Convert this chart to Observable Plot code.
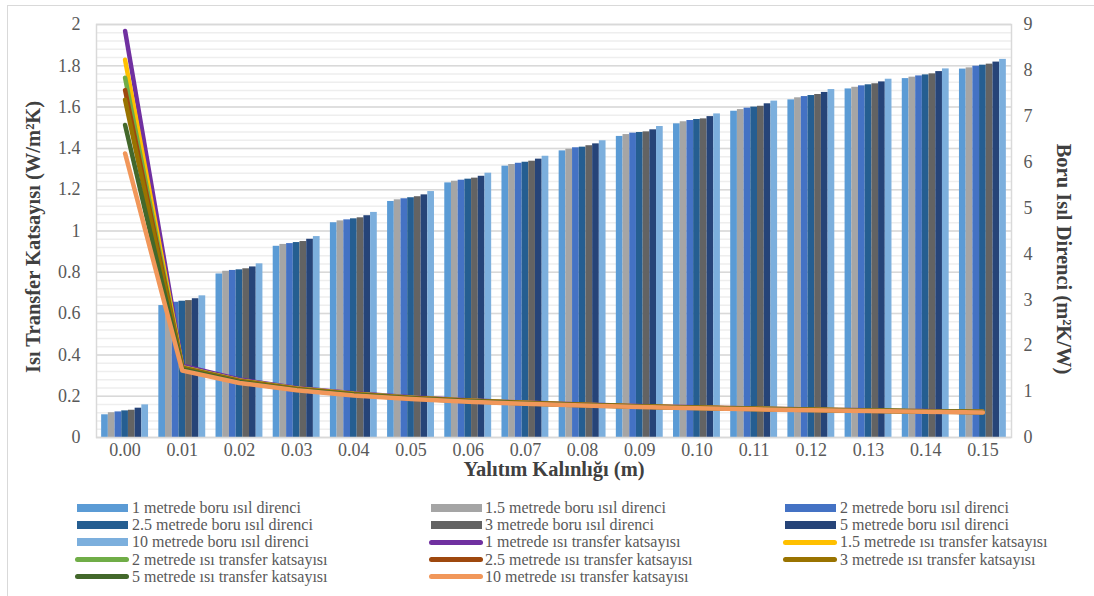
<!DOCTYPE html>
<html>
<head>
<meta charset="utf-8">
<script src="https://cdn.jsdelivr.net/npm/d3@7"></script>
<script src="https://cdn.jsdelivr.net/npm/@observablehq/plot@0.6"></script>
<style>
  body { margin: 0; background: #fff; }
  #wrap { position: relative; width: 1094px; height: 596px; overflow: hidden;
          font-family: "Liberation Serif", "Times New Roman", serif; background: #fff; }
  #border { position: absolute; left: 7px; top: 5px; width: 1300px; height: 800px;
            border-left: 1px solid #d9d9d9; border-top: 1px solid #d9d9d9; }
  #chart { position: absolute; left: 0; top: 0; }
  .leg { position: absolute; font-size: 16px; color: #595959; white-space: nowrap; line-height: 17px; }
  .sw { position: absolute; }
</style>
</head>
<body>
<div id="wrap">
  <div id="border"></div>
  <div id="chart"></div>
  <div id="legend"></div>
</div>
<script>
// Insulation thickness (m)
const thickness = [0.00, 0.01, 0.02, 0.03, 0.04, 0.05, 0.06, 0.07, 0.08, 0.09, 0.10, 0.11, 0.12, 0.13, 0.14, 0.15];

// Pipe lengths (m)
const lengths = ["1", "1.5", "2", "2.5", "3", "5", "10"];

// Pipe thermal resistance (m²K/W) per pipe length
const direnc1 =  [0.110, 0.639, 0.792, 0.926, 1.040, 1.143, 1.233, 1.314, 1.388, 1.458, 1.519, 1.580, 1.635, 1.688, 1.738, 1.784];
const direnc15 = [0.120, 0.652, 0.805, 0.935, 1.049, 1.151, 1.241, 1.322, 1.396, 1.467, 1.529, 1.588, 1.645, 1.696, 1.745, 1.790];
const direnc2 =  [0.124, 0.655, 0.809, 0.939, 1.054, 1.156, 1.246, 1.328, 1.403, 1.474, 1.535, 1.595, 1.651, 1.703, 1.751, 1.798];
const direnc25 = [0.129, 0.660, 0.812, 0.944, 1.059, 1.161, 1.251, 1.333, 1.406, 1.477, 1.540, 1.600, 1.656, 1.708, 1.756, 1.803];
const direnc3 =  [0.132, 0.663, 0.817, 0.949, 1.064, 1.166, 1.256, 1.338, 1.413, 1.480, 1.543, 1.604, 1.661, 1.713, 1.761, 1.808];
const direnc5 =  [0.142, 0.672, 0.826, 0.960, 1.074, 1.175, 1.265, 1.348, 1.422, 1.490, 1.554, 1.616, 1.671, 1.722, 1.772, 1.818];
const direnc10 = [0.158, 0.686, 0.841, 0.973, 1.090, 1.191, 1.280, 1.362, 1.437, 1.506, 1.567, 1.629, 1.685, 1.735, 1.785, 1.831];

// Heat transfer coefficient (W/m²K) per pipe length
const katsayi1 =  [8.86, 1.565, 1.263, 1.080, 0.962, 0.875, 0.811, 0.761, 0.720, 0.686, 0.658, 0.633, 0.612, 0.592, 0.575, 0.561];
const katsayi15 = [8.23, 1.534, 1.242, 1.070, 0.953, 0.869, 0.806, 0.756, 0.716, 0.682, 0.654, 0.630, 0.608, 0.590, 0.573, 0.559];
const katsayi2 =  [7.84, 1.527, 1.236, 1.065, 0.949, 0.865, 0.803, 0.753, 0.713, 0.678, 0.651, 0.627, 0.606, 0.587, 0.571, 0.556];
const katsayi25 = [7.57, 1.515, 1.232, 1.059, 0.944, 0.861, 0.799, 0.750, 0.711, 0.677, 0.649, 0.625, 0.604, 0.585, 0.569, 0.555];
const katsayi3 =  [7.36, 1.508, 1.224, 1.054, 0.940, 0.858, 0.796, 0.747, 0.708, 0.676, 0.648, 0.623, 0.602, 0.584, 0.568, 0.553];
const katsayi5 =  [6.81, 1.488, 1.211, 1.042, 0.931, 0.851, 0.791, 0.742, 0.703, 0.671, 0.644, 0.619, 0.598, 0.581, 0.564, 0.550];
const katsayi10 = [6.19, 1.458, 1.189, 1.028, 0.917, 0.840, 0.781, 0.734, 0.696, 0.664, 0.638, 0.614, 0.593, 0.576, 0.560, 0.546];

// Axis ticks
const leftTicks = [0, 0.2, 0.4, 0.6, 0.8, 1, 1.2, 1.4, 1.6, 1.8, 2];
const rightTicks = [0, 1, 2, 3, 4, 5, 6, 7, 8, 9];

const barColors  = ["#5b9bd5", "#a5a5a5", "#4472c4", "#255e91", "#636363", "#264478", "#7cafdd"];
const lineColors = ["#7030a0", "#ffc000", "#70ad47", "#9e480e", "#997300", "#43682b", "#f1975a"];

const direncSeries  = [direnc1, direnc15, direnc2, direnc25, direnc3, direnc5, direnc10];
const katsayiSeries = [katsayi1, katsayi15, katsayi2, katsayi25, katsayi3, katsayi5, katsayi10];

// Right axis (0–9) shares the frame with the left axis (0–2)
const ratio = 9 / 2;

// Grouped bars: each group spans this much of the 0.01 step
const groupWidth = 0.0082;
const barW = groupWidth / lengths.length;

const bars = direncSeries.flatMap((vals, s) =>
  vals.map((v, i) => ({ t: thickness[i], s, v })));

const minorGrid = d3.range(0, 51).map(i => i * 0.04).filter(v => v <= 2.0001);

const titleStyle = { fontSize: 20.5, fontWeight: "bold", fill: "#404040", textAnchor: "middle", lineAnchor: "middle", text: d => d };

const marks = [
  Plot.ruleY(minorGrid, { stroke: "#eeeeee", strokeWidth: 1.5 }),
  Plot.ruleY(leftTicks, { stroke: "#d9d9d9", strokeWidth: 1.5 }),
  Plot.rectY(bars, {
    x1: d => d.t - groupWidth / 2 + d.s * barW,
    x2: d => d.t - groupWidth / 2 + (d.s + 1) * barW,
    y1: 0,
    y2: "v",
    fill: d => barColors[d.s]
  }),
  ...katsayiSeries.map((vals, s) =>
    Plot.line(vals.map((u, i) => ({ t: thickness[i], u })), {
      x: "t",
      y: d => d.u / ratio,
      stroke: lineColors[s],
      strokeWidth: 4.5,
      strokeLinecap: "round",
      strokeLinejoin: "round"
    })),
  Plot.frame({ stroke: "#d9d9d9", strokeWidth: 1.5 }),
  Plot.axisY(leftTicks, { anchor: "left", tickSize: 0, tickPadding: 16, label: null,
    tickFormat: d => String(d) }),
  Plot.axisY(rightTicks.map(v => v / ratio), { anchor: "right", tickSize: 0, tickPadding: 12, label: null,
    tickFormat: d => String(Math.round(d * ratio)) }),
  Plot.axisX(thickness, { anchor: "bottom", tickSize: 0, tickPadding: 6, label: null,
    tickFormat: d3.format(".2f") }),
  Plot.text(["Isı Transfer Katsayısı (W/m²K)"], {
    ...titleStyle, frameAnchor: "left", dx: -63, dy: 6, rotate: -90
  }),
  Plot.text(["Boru Isıl Direnci (m²K/W)"], {
    ...titleStyle, frameAnchor: "right", dx: 52, dy: 28, rotate: 90
  }),
  Plot.text(["Yalıtım Kalınlığı (m)"], {
    ...titleStyle, frameAnchor: "bottom", dy: 32
  })
];

const chart = Plot.plot({
  width: 1094,
  height: 480,
  marginLeft: 96,
  marginRight: 83,
  marginTop: 24,
  marginBottom: 43,
  x: { type: "linear", domain: [-0.005, 0.155] },
  y: { domain: [0, 2] },
  style: { fontFamily: "Liberation Serif, Times New Roman, serif", fontSize: "18px", color: "#595959", background: "transparent", overflow: "visible" },
  marks
});
document.getElementById("chart").appendChild(chart);

// Legend: three columns, row-major
const legend = document.getElementById("legend");
const entries = [
  ...lengths.map((m, s) => ({ label: `${m} metrede boru ısıl direnci`, color: barColors[s], kind: "bar" })),
  ...lengths.map((m, s) => ({ label: `${m} metrede ısı transfer katsayısı`, color: lineColors[s], kind: "line" }))
];
const swatchX = [77, 431, 785];
const textX = [132, 485, 840];
entries.forEach((e, k) => {
  const r = Math.floor(k / 3), c = k % 3;
  const cy = 508 + r * 17.2;
  const sw = document.createElement("div");
  sw.className = "sw";
  if (e.kind === "bar") {
    Object.assign(sw.style, { left: swatchX[c] + "px", top: (cy - 4) + "px", width: "51px", height: "8px", background: e.color });
  } else {
    Object.assign(sw.style, { left: (swatchX[c] - 2) + "px", top: (cy - 2.5) + "px", width: "54px", height: "5px", background: e.color, borderRadius: "3px" });
  }
  legend.appendChild(sw);
  const t = document.createElement("div");
  t.className = "leg";
  t.textContent = e.label;
  Object.assign(t.style, { left: textX[c] + "px", top: (cy - 9) + "px" });
  legend.appendChild(t);
});
</script>
</body>
</html>
